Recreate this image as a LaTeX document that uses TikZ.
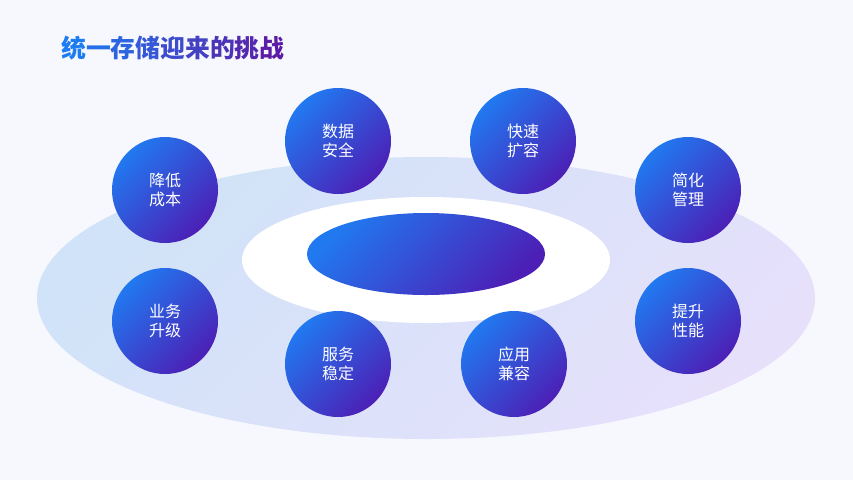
\documentclass[tikz,border=0pt]{standalone}
\usepackage{fontspec}
\newfontfamily\cjk{Noto Sans CJK SC}
\usepackage{tikz}
\definecolor{paper}{HTML}{F7F8FD}
\definecolor{ringBlue}{HTML}{D0E3F8}
\definecolor{ringLilac}{HTML}{E6E0FB}
\definecolor{ballBlue}{HTML}{2179F0}
\definecolor{ballPurple}{HTML}{4C1FB6}
\definecolor{titleBlue}{HTML}{1E7CF2}
\definecolor{titlePurple}{HTML}{5C1CA6}
\newcommand{\tch}[2]{\textcolor{titlePurple!#1!titleBlue}{#2}}

\begin{document}
\begin{tikzpicture}[x=1pt,y=-1pt,
  ball/.style={circle,minimum size=106pt,inner sep=0pt,
    top color=ballBlue,bottom color=ballPurple,shading angle=45,
    text=white,align=center,font=\cjk\fontsize{16}{19}\selectfont}]
\useasboundingbox (0,0) rectangle (853,480);
\fill[paper] (0,0) rectangle (853,480);
% rings
\shade[top color=ringBlue,bottom color=ringLilac,shading angle=45]
  (426,298) ellipse [x radius=389,y radius=141];
\fill[white] (426,260) ellipse [x radius=184,y radius=63];
\shade[top color=ballBlue,bottom color=ballPurple,shading angle=45]
  (426,254) ellipse [x radius=119,y radius=41];
% title
\node[anchor=west,inner sep=0pt,font=\cjk\bfseries\fontsize{24.8}{29}\selectfont] (title) at (61,48)
  {\tch{0}{统}\tch{12}{一}\tch{25}{存}\tch{37}{储}\tch{50}{迎}\tch{62}{来}\tch{75}{的}\tch{87}{挑}\tch{100}{战}};
% challenges
\node[ball] (cost) at (165,190) {降低\\成本};
\node[ball] (safety) at (338,141) {数据\\安全};
\node[ball] (scale) at (523,141) {快速\\扩容};
\node[ball] (manage) at (688,190) {简化\\管理};
\node[ball] (upgrade) at (165,321) {业务\\升级};
\node[ball] (perf) at (688,321) {提升\\性能};
\node[ball] (stable) at (338,364) {服务\\稳定};
\node[ball] (compat) at (514,364) {应用\\兼容};
\end{tikzpicture}
\end{document}
